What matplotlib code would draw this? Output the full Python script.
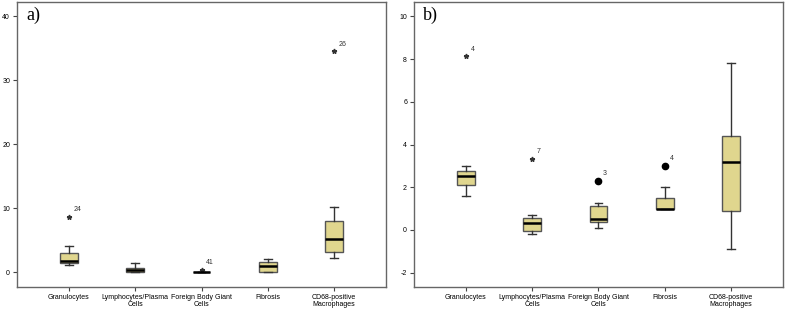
import matplotlib
matplotlib.use("Agg")
import matplotlib.pyplot as plt

categories = ["Granulocytes", "Lymphocytes/Plasma\nCells", "Foreign Body Giant\nCells",
              "Fibrosis", "CD68-positive\nMacrophages"]

# panel a) box statistics: whisker low, q1, median, q3, whisker high
a_whislo = [1.1, 0.0, 0.0, 0.0, 2.3]
a_q1 = [1.45, 0.1, 0.0, 0.0, 3.1]
a_med = [1.8, 0.35, 0.0, 1.0, 5.25]
a_q3 = [3.0, 0.6, 0.0, 1.55, 8.0]
a_whishi = [4.1, 1.5, 0.0, 2.0, 10.25]
a_outliers = [[8.7], [], [0.4], [], [34.5]]
a_outlier_ids = [["24"], [], ["41"], [], ["26"]]
a_outlier_kind = ["*", None, "*", None, "*"]

# panel b)
b_whislo = [1.6, -0.19, 0.09, 1.0, -0.9]
b_q1 = [2.1, -0.05, 0.36, 1.0, 0.91]
b_med = [2.51, 0.31, 0.5, 1.0, 3.2]
b_q3 = [2.78, 0.55, 1.11, 1.5, 4.39]
b_whishi = [3.0, 0.69, 1.28, 2.01, 7.82]
b_outliers = [[8.13], [3.33], [2.31], [3.0], []]
b_outlier_ids = [["4"], ["7"], ["3"], ["4"], []]
b_outlier_kind = ["*", "*", "o", "o", None]

a_yticks = [0, 10, 20, 30, 40]
b_yticks = [-2, 0, 2, 4, 6, 8, 10]

FILL = "#e0d68e"
EDGE = "#555555"
FONT = "Liberation Sans"


def draw_panel(ax, tag, lo, q1, med, q3, hi, outs, ids, kinds, yticks, ylim):
    stats = []
    for i in range(len(categories)):
        stats.append(dict(whislo=lo[i], q1=q1[i], med=med[i], q3=q3[i],
                          whishi=hi[i], fliers=[]))
    pos = list(range(1, len(categories) + 1))
    ax.bxp(stats, positions=pos, widths=0.27, patch_artist=True,
           showfliers=False, capwidths=0.12,
           boxprops=dict(facecolor=FILL, edgecolor=EDGE, linewidth=1.0),
           medianprops=dict(color="black", linewidth=1.8),
           whiskerprops=dict(color="#333333", linewidth=1.0),
           capprops=dict(color="#333333", linewidth=1.0))
    dy = (ylim[1] - ylim[0]) * 0.012
    for i, (vals, labs, kind) in enumerate(zip(outs, ids, kinds)):
        for v, lab in zip(vals, labs):
            if kind == "*":
                ax.plot(pos[i], v, marker="*", color="#333333", markersize=3.5, linestyle="none")
            else:
                ax.plot(pos[i], v, marker="o", color="black", markersize=4.5, linestyle="none")
            ax.text(pos[i] + 0.07, v + dy, lab, fontsize=5, family=FONT,
                    color="#333333", ha="left", va="bottom")
    ax.set_xlim(0.22, 5.78)
    ax.set_ylim(*ylim)
    ax.set_yticks(yticks)
    ax.set_yticklabels([str(t) for t in yticks], fontsize=5, family=FONT)
    ax.set_xticks(pos)
    ax.set_xticklabels(categories, fontsize=5, family=FONT, linespacing=0.95)
    ax.tick_params(length=3, width=0.8, color="#444444", pad=2)
    for s in ax.spines.values():
        s.set_color("#666666")
        s.set_linewidth(1.0)
    ax.text(0.025, 0.985, tag, transform=ax.transAxes, fontsize=13,
            family="Liberation Serif", ha="left", va="top")


fig = plt.figure(figsize=(7.85, 3.11), dpi=100)
ax1 = fig.add_axes([0.0217, 0.0772, 0.470, 0.916])
ax2 = fig.add_axes([0.5274, 0.0772, 0.470, 0.916])

draw_panel(ax1, "a)", a_whislo, a_q1, a_med, a_q3, a_whishi,
           a_outliers, a_outlier_ids, a_outlier_kind, a_yticks, (-2.3, 42.2))
draw_panel(ax2, "b)", b_whislo, b_q1, b_med, b_q3, b_whishi,
           b_outliers, b_outlier_ids, b_outlier_kind, b_yticks, (-2.67, 10.67))

fig.savefig("out.png", dpi=100)
